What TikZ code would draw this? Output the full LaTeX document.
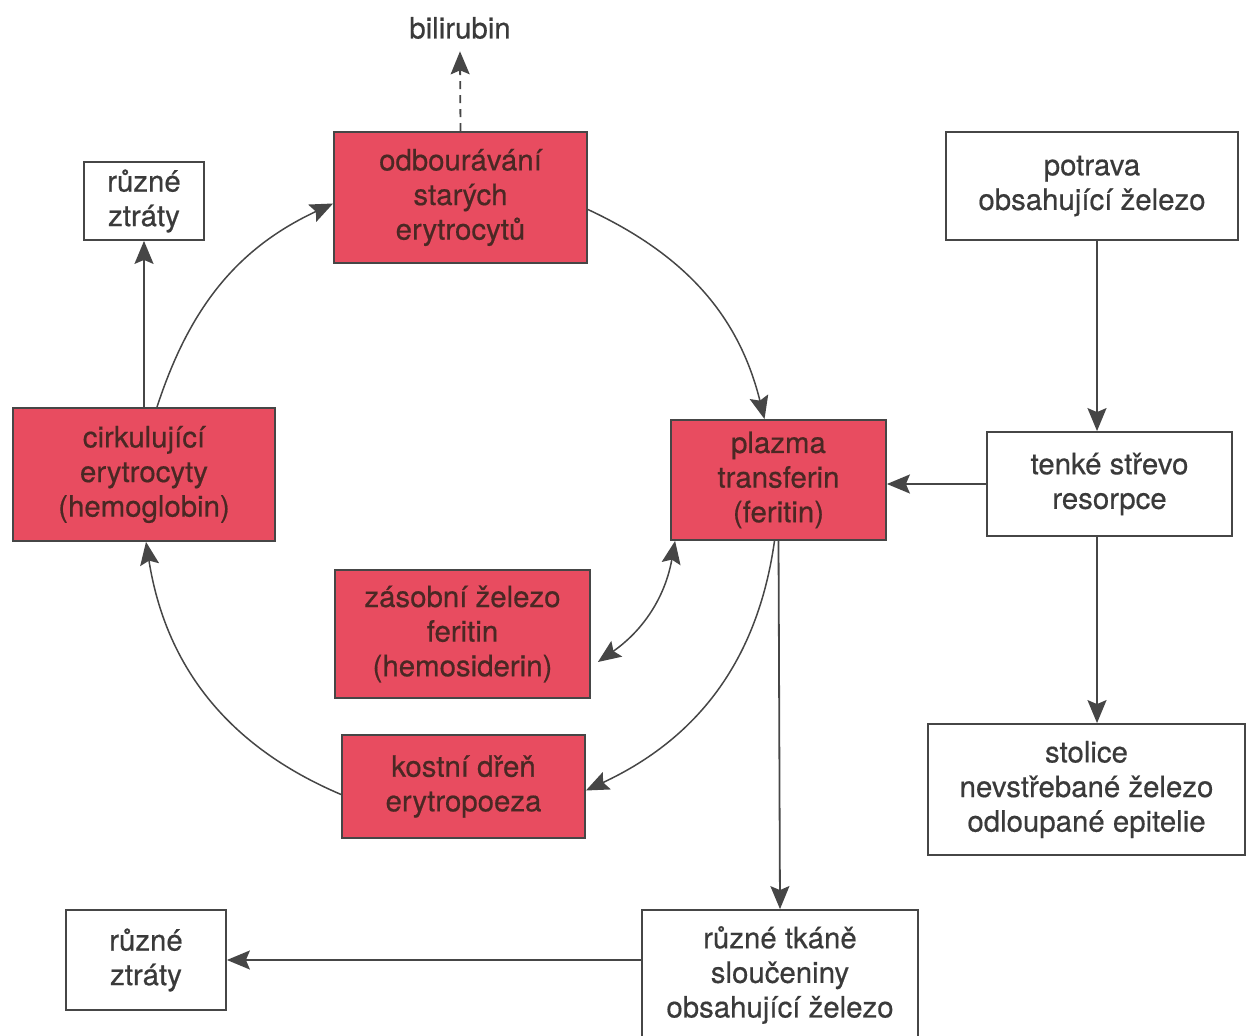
\documentclass[tikz,border=0pt]{standalone}
\usepackage{fontspec}
\setmainfont{TeX Gyre Heros}[FakeBold=0.5]
\usetikzlibrary{arrows.meta}
\definecolor{cyclered}{RGB}{232,76,96}
\definecolor{redtext}{RGB}{74,40,36}
\definecolor{ink}{RGB}{58,58,58}
\definecolor{edge}{RGB}{70,70,70}
\begin{document}
\begin{tikzpicture}[x=0.5pt,y=-0.5pt,
  every node/.style={font=\fontsize{14.7pt}{17.3pt}\selectfont, align=center, inner sep=0pt},
  plainbox/.style={draw=edge, line width=0.9pt, fill=white, text=ink},
  redbox/.style={draw=edge, line width=0.9pt, fill=cyclered, text=redtext},
  tip/.style={-{Stealth[length=11.5pt,width=9.5pt,inset=2pt]}},
  arr/.style={draw=edge, line width=0.9pt, tip},
  curvearr/.style={draw=edge, line width=0.75pt, tip},
  dasharr/.style={draw=edge, line width=0.9pt, dash pattern=on 4pt off 3pt, tip}]
\useasboundingbox (0,0) rectangle (1247,1036);

% red boxes of the iron cycle
\node[redbox, minimum width=126.5pt, minimum height=65.5pt] (odb) at (460.5,197.5)
  {odbourávání\\starých\\erytrocytů};
\node[redbox, minimum width=131pt, minimum height=66.5pt] (cirk) at (144,474.5)
  {cirkulující\\erytrocyty\\(hemoglobin)};
\node[redbox, minimum width=107.5pt, minimum height=60pt] (plaz) at (778.5,480)
  {plazma\\transferin\\(feritin)};
\node[redbox, minimum width=127.5pt, minimum height=64pt] (zas) at (462.5,634)
  {zásobní železo\\feritin\\(hemosiderin)};
\node[redbox, minimum width=121.5pt, minimum height=51.5pt] (kost) at (463.5,786.5)
  {kostní dřeň\\erytropoeza};

% white boxes
\node[text=ink] (bil) at (460,28) {bilirubin};
\node[plainbox, minimum width=60pt, minimum height=39pt] (ruz1) at (144,201)
  {různé\\ztráty};
\node[plainbox, minimum width=146pt, minimum height=54pt] (potr) at (1092,186)
  {potrava\\obsahující železo};
\node[plainbox, minimum width=122.5pt, minimum height=52pt] (tenk) at (1109.5,484)
  {tenké střevo\\resorpce};
\node[plainbox, minimum width=158.5pt, minimum height=65.5pt] (stol) at (1086.5,789.5)
  {stolice\\nevstřebané železo\\odloupané epitelie};
\node[plainbox, minimum width=138pt, minimum height=65pt] (tkan) at (780,975)
  {různé tkáně\\sloučeniny\\obsahující železo};
\node[plainbox, minimum width=80pt, minimum height=50pt] (ruz2) at (146,960)
  {různé\\ztráty};

% straight connectors
\draw[dasharr] (odb.north) -- ([yshift=-6pt]bil.south);
\draw[arr] (cirk.north) -- (ruz1.south);
\draw[arr] ([xshift=-6.25pt]tenk.north |- potr.south) -- ([xshift=-6.25pt]tenk.north);
\draw[arr] ([xshift=-6.25pt]tenk.south) -- ([xshift=-6.25pt]tenk.south |- stol.north);
\draw[arr] (tenk.west) -- (plaz.east |- tenk.west);
\draw[arr] (plaz.south) -- (tkan.north);
\draw[arr] (tkan.west |- ruz2.east) -- (ruz2.east);

% curved connectors around the cycle
\draw[curvearr] ([xshift=6.5pt]cirk.north) to[out=72,in=205] ([yshift=-3pt]odb.west);
\draw[curvearr] ([yshift=-6pt]odb.east) to[out=-25,in=104] ([xshift=-7pt]plaz.north);
\draw[curvearr] ([xshift=-2pt]plaz.south) to[out=-98,in=25] ([yshift=-2pt]kost.east);
\draw[curvearr] ([yshift=-4pt]kost.west) to[out=157,in=-81] ([xshift=1pt]cirk.south);
\draw[draw=edge, line width=0.75pt,
  {Stealth[length=11.5pt,width=9.5pt,inset=2pt]}-{Stealth[length=11.5pt,width=9.5pt,inset=2pt]}]
  ([xshift=3.5pt,yshift=-14pt]zas.east) to[out=35,in=-100] ([xshift=2.5pt]plaz.south west);
\end{tikzpicture}
\end{document}
